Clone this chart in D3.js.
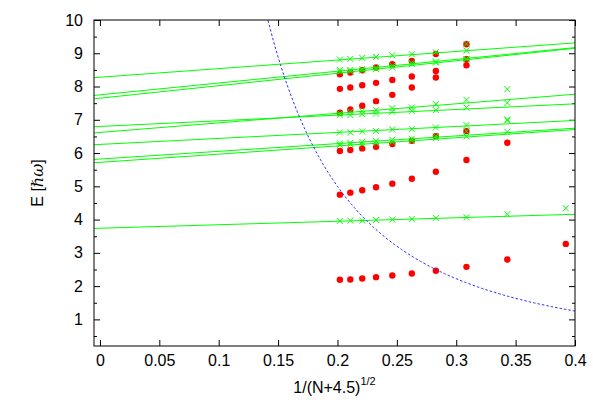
<!DOCTYPE html>
<html>
<head>
<meta charset="utf-8">
<script src="https://cdn.jsdelivr.net/npm/d3@7"></script>
<style>
body { margin: 0; background: #fff; }
text { font-family: "Liberation Sans", Arial, sans-serif; }
</style>
</head>
<body>
<script>
//=== Data ===
// shell number N for each column, x = 1/(N+4.5)^(1/2)
const N = [20, 18, 16, 14, 12, 10, 8, 6, 4, 2];

// red dots, one array per band (same order as N, null = no point)
const red1 = [2.19, 2.20, 2.23, 2.27, 2.32, 2.38, 2.46, 2.58, 2.80, 3.27];
const red2 = [4.75, 4.81, 4.88, 4.97, 5.08, 5.23, 5.44, 5.79, 6.31, null];
const red3 = [6.06, 6.09, 6.14, 6.19, 6.27, 6.37, 6.51, 6.66, null, null];
const red4 = [7.21, 7.31, 7.42, 7.56, 7.75, 7.97, 8.27, 8.64, null, null];
const red5 = [7.93, 7.97, 8.04, 8.11, 8.20, 8.30, 8.47, 8.82, null, null];
const red6 = [8.37, 8.42, 8.49, 8.57, 8.67, 8.77, 8.98, 9.27, null, null];

// green crosses
const grn1 = [8.81, 8.83, 8.86, 8.89, 8.94, 8.97, 9.03, 9.08, null, null];
const grn2 = [8.50, 8.50, 8.53, 8.57, 8.63, 8.72, 8.75, 8.83, null, null];
const grn3 = [8.45, 8.46, 8.48, 8.52, 8.57, 8.67, 8.72, 8.82, null, null];
const grn4 = [7.20, 7.24, 7.26, 7.29, 7.35, 7.37, 7.47, 7.60, 7.92, null];
const grn5 = [7.14, 7.14, 7.17, 7.19, 7.24, 7.27, 7.29, 7.37, 7.51, null];
const grn6 = [6.62, 6.62, 6.65, 6.66, 6.71, 6.72, 6.77, 6.84, 7.01, null];
const grn7 = [6.29, 6.31, 6.34, 6.36, 6.40, 6.43, 6.51, 6.66, 6.98, null];
const grn8 = [6.24, 6.26, 6.27, 6.29, 6.33, 6.37, 6.45, 6.50, 6.64, null];
const grn9 = [3.96, 3.97, 3.97, 3.99, 4.00, 4.02, 4.05, 4.07, 4.16, 4.34];
const grn10 = [null, null, null, null, null, null, null, 9.28, null, null];

// fitted straight lines E = a + b*x
const fitA = [8.28, 7.75, 7.65, 6.80, 6.62, 6.26, 5.82, 5.72, 3.74];
const fitB = [2.58, 3.55, 3.75, 1.70, 2.87, 1.80, 2.32, 2.47, 1.05];

// dashed curve E = c / x^2
const curveC = 0.2;

const xTicks = [0, 0.05, 0.1, 0.15, 0.2, 0.25, 0.3, 0.35, 0.4];
const yTicks = [1, 2, 3, 4, 5, 6, 7, 8, 9, 10];
const yMinor = [0.5, 1.5, 2.5, 3.5, 4.5, 5.5, 6.5, 7.5, 8.5, 9.5];

//=== Initialization ===
const W = 593, H = 415;
const margin = { top: 20, right: 18, bottom: 69, left: 94 };
const width = W - margin.left - margin.right;
const height = H - margin.top - margin.bottom;

const svg = d3.select("body").append("svg")
    .attr("width", W)
    .attr("height", H)
    .append("g")
    .attr("transform", "translate(" + margin.left + "," + margin.top + ")");

const x = d3.scaleLinear().domain([-0.005, 0.4]).range([0, width]);
const y = d3.scaleLinear().domain([0.2, 10]).range([height, 0]);

const xOf = n => x(1 / Math.sqrt(n + 4.5));

svg.append("clipPath").attr("id", "clip")
    .append("rect").attr("width", width).attr("height", height);

// axes (ticks point inward)
function styleAxis(g) {
    g.select(".domain").remove();
    g.selectAll("line").attr("stroke", "#000");
    g.attr("font-family", null).attr("font-size", 16);
    g.selectAll("text").attr("fill", "#000");
}

svg.append("g")
    .attr("transform", "translate(0," + height + ")")
    .call(d3.axisBottom(x).tickValues(xTicks).tickSize(-6).tickPadding(9).tickFormat(d3.format("~g")))
    .call(styleAxis);
svg.append("g")
    .call(d3.axisTop(x).tickValues(xTicks).tickSize(-6).tickFormat(""))
    .call(styleAxis);
svg.append("g")
    .call(d3.axisLeft(y).tickValues(yTicks).tickSize(-6).tickPadding(11).tickFormat(d3.format("d")))
    .call(styleAxis);
svg.append("g")
    .call(d3.axisLeft(y).tickValues(yMinor).tickSize(-3).tickFormat(""))
    .call(styleAxis);
svg.append("g")
    .attr("transform", "translate(" + width + ",0)")
    .call(d3.axisRight(y).tickValues(yTicks).tickSize(-6).tickFormat(""))
    .call(styleAxis);
svg.append("g")
    .attr("transform", "translate(" + width + ",0)")
    .call(d3.axisRight(y).tickValues(yMinor).tickSize(-3).tickFormat(""))
    .call(styleAxis);

// red dots
const redBands = [red1, red2, red3, red4, red5, red6];
const redPts = redBands.flatMap(b => N.map((n, i) => ({ n: n, e: b[i] })).filter(d => d.e != null));

svg.append("g")
    .selectAll("circle")
    .data(redPts)
    .enter()
    .append("circle")
    .attr("cx", d => xOf(d.n))
    .attr("cy", d => y(d.e))
    .attr("r", 3.2)
    .attr("fill", "#ff0000");

// green crosses
const grnBands = [grn1, grn2, grn3, grn4, grn5, grn6, grn7, grn8, grn9, grn10];
const grnPts = grnBands.flatMap(b => N.map((n, i) => ({ n: n, e: b[i] })).filter(d => d.e != null));
const s = 3;

svg.append("g")
    .selectAll("path")
    .data(grnPts)
    .enter()
    .append("path")
    .attr("d", d => {
        const cx = xOf(d.n), cy = y(d.e);
        return "M" + (cx - s) + "," + (cy - s) + "L" + (cx + s) + "," + (cy + s) +
            "M" + (cx - s) + "," + (cy + s) + "L" + (cx + s) + "," + (cy - s);
    })
    .attr("stroke", "#00ff00")
    .attr("stroke-width", 1)
    .attr("fill", "none");

// fit lines
const xd = x.domain();
svg.append("g")
    .attr("clip-path", "url(#clip)")
    .selectAll("line")
    .data(fitA.map((a, i) => ({ a: a, b: fitB[i] })))
    .enter()
    .append("line")
    .attr("x1", x(xd[0]))
    .attr("y1", d => y(d.a + d.b * xd[0]))
    .attr("x2", x(xd[1]))
    .attr("y2", d => y(d.a + d.b * xd[1]))
    .attr("stroke", "#00ff00")
    .attr("stroke-width", 1);

// dashed curve
const curve = d3.range(0.13, 0.4001, 0.002).map(v => ({ x: v, e: curveC / (v * v) }));
const line = d3.line()
    .x(d => x(d.x))
    .y(d => y(d.e));

svg.append("path")
    .datum(curve)
    .attr("clip-path", "url(#clip)")
    .attr("d", line)
    .attr("fill", "none")
    .attr("stroke", "#2a2aff")
    .attr("stroke-width", 1)
    .attr("stroke-dasharray", "2.5,2");

// frame
svg.append("rect")
    .attr("width", width)
    .attr("height", height)
    .attr("fill", "none")
    .attr("stroke", "#000")
    .attr("stroke-width", 1);

// axis titles
const xt = svg.append("text")
    .attr("x", width / 2)
    .attr("y", height + 47)
    .attr("text-anchor", "middle")
    .attr("font-size", 16);
xt.append("tspan").text("1/(N+4.5)");
xt.append("tspan").attr("font-size", 11).attr("dy", -8).text("1/2");

const yt = svg.append("text")
    .attr("transform", "translate(-51," + (height / 2) + ") rotate(-90)")
    .attr("text-anchor", "middle")
    .attr("font-size", 16);
yt.append("tspan").text("E [");
yt.append("tspan").attr("font-style", "italic").attr("font-family", "'DejaVu Serif', serif").text("ℏω");
yt.append("tspan").text("]");
</script>
</body>
</html>
